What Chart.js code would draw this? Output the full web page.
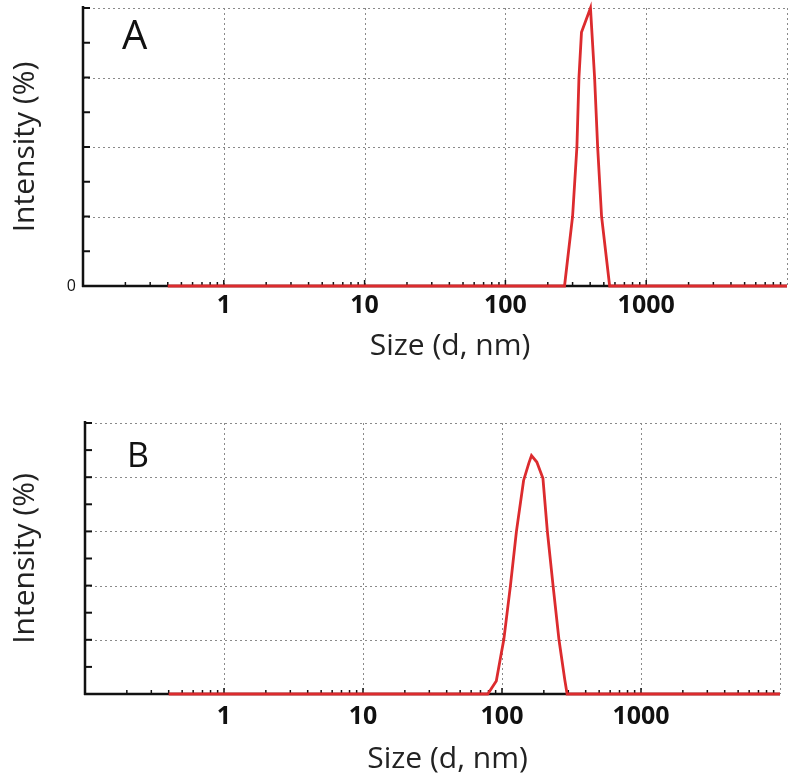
<!DOCTYPE html>
<html>
<head>
<meta charset="utf-8">
<script src="https://cdn.jsdelivr.net/npm/chart.js@4.4.1/dist/chart.umd.min.js"></script>
<style>
  body { margin: 0; background: #fff; width: 800px; height: 783px; position: relative; overflow: hidden; }
  .panel { position: absolute; left: 0; width: 800px; }
  #panelA { top: 0; height: 370px; }
  #panelB { top: 400px; height: 383px; }
</style>
</head>
<body>
<div class="panel" id="panelA"><canvas id="chartA"></canvas></div>
<div class="panel" id="panelB"><canvas id="chartB"></canvas></div>
<script>
// sample A: size (d, nm) vs intensity
const sizesA = [0.4, 263, 300, 322, 333, 347, 402, 430, 452, 482, 550, 10000];
const intensityA = [0, 0, 10, 20, 30, 36.5, 40, 30, 20, 10, 0, 0];

// sample B
const sizesB = [0.4, 79, 91, 99, 103, 115, 127, 143, 156, 163, 178, 197, 212, 233, 257, 283, 294, 10000];
const intensityB = [0, 0, 1.2, 3.8, 5, 10, 15, 19.7, 21.3, 22, 21.4, 19.9, 15, 10, 5, 1.3, 0, 0];

// x axis ticks (log)
const decadeTicks = [0.1, 1, 10, 100, 1000, 10000];
const labelledTicks = [1, 10, 100, 1000];

const FONT = "'Open Sans', 'DejaVu Sans', sans-serif";

function toPoints(xs, ys) {
  return xs.map((x, i) => ({ x: x, y: ys[i] }));
}

// dotted grid, black axes with inward ticks, panel letter, x title
const axisDeco = {
  id: "axisDeco",
  beforeDatasetsDraw(chart, args, o) {
    const { ctx, chartArea: a } = chart;
    const x = chart.scales.x, y = chart.scales.y;
    const line = (x1, y1, x2, y2) => {
      ctx.beginPath(); ctx.moveTo(x1, y1); ctx.lineTo(x2, y2); ctx.stroke();
    };
    ctx.save();
    ctx.strokeStyle = "#8a8a8a";
    ctx.lineWidth = 1;
    ctx.setLineDash([2, 3]);
    decadeTicks.forEach((v) => {
      const px = Math.round(x.getPixelForValue(v)) + 0.5;
      line(px, a.top, px, a.bottom);
    });
    for (let v = o.yStep; v <= o.yMax + 1e-9; v += o.yStep) {
      const py = Math.round(y.getPixelForValue(v)) + 0.5;
      line(a.left, py, a.right, py);
    }
    ctx.setLineDash([]);

    ctx.strokeStyle = "#111";
    ctx.lineWidth = 2;
    // y ticks, major and half steps
    for (let v = 0; v <= o.yMax + 1e-9; v += o.yStep / 2) {
      const py = y.getPixelForValue(v);
      line(a.left, py, a.left + 7, py);
    }
    // x minor ticks
    ctx.lineWidth = 1.5;
    for (let d = 0; d < decadeTicks.length - 1; d++) {
      for (let m = 1; m <= 9; m++) {
        const px = x.getPixelForValue(decadeTicks[d] * m);
        line(px, a.bottom, px, a.bottom - (m === 1 ? 6 : 4));
      }
    }
    ctx.lineWidth = 2.5;
    line(a.left, a.top - 2, a.left, a.bottom + 1);
    line(a.left - 1, a.bottom, a.right, a.bottom);
    ctx.restore();
  },
  afterDraw(chart, args, o) {
    const { ctx, chartArea: a } = chart;
    ctx.save();
    ctx.fillStyle = "#111";
    ctx.font = o.letterSize + "px " + FONT;
    ctx.textBaseline = "top";
    ctx.fillText(o.letter, a.left + o.letterDx, a.top + o.letterDy);
    // x title sits a bit right of the plot centre in the original
    ctx.fillStyle = "#222";
    ctx.font = "30px " + FONT;
    ctx.textAlign = "center";
    ctx.textBaseline = "middle";
    ctx.fillText("Size (d, nm)", (a.left + a.right) / 2 + 15, chart.height - o.titleOffset);
    ctx.restore();
  },
};

function makeChart(id, p) {
  return new Chart(document.getElementById(id), {
    type: "line",
    data: {
      datasets: [
        {
          data: toPoints(p.xs, p.ys),
          borderColor: "#dc2b2e",
          borderWidth: 2.8,
          pointRadius: 0,
          tension: 0,
          fill: false,
          clip: false,
        },
      ],
    },
    options: {
      responsive: true,
      maintainAspectRatio: false,
      animation: false,
      layout: { padding: p.padding },
      plugins: {
        legend: { display: false },
        tooltip: { enabled: false },
        axisDeco: {
          yMax: p.yMax, yStep: p.yStep,
          letter: p.letter, letterSize: p.letterSize,
          letterDx: p.letterDx, letterDy: p.letterDy,
          titleOffset: p.titleOffset,
        },
      },
      scales: {
        x: {
          type: "logarithmic",
          min: 0.1,
          max: 10000,
          afterFit: (s) => { s.height = p.xHeight; s.paddingLeft = 0; s.paddingRight = 0; },
          afterBuildTicks: (s) => { s.ticks = decadeTicks.map((v) => ({ value: v })); },
          grid: { display: false, drawTicks: false },
          border: { display: false },
          ticks: {
            autoSkip: false,
            maxRotation: 0,
            padding: p.xTickPad,
            color: "#111",
            font: { family: FONT, size: 25, weight: "bold" },
            callback: (v) => (labelledTicks.includes(v) ? String(v) : ""),
          },
          title: { display: false },
        },
        y: {
          min: 0,
          max: p.yMax,
          afterFit: (s) => { s.width = p.yWidth; s.paddingTop = 0; s.paddingBottom = 0; },
          afterBuildTicks: (s) => {
            const t = [];
            for (let v = 0; v <= p.yMax; v += p.yStep) t.push({ value: v });
            s.ticks = t;
          },
          grid: { display: false, drawTicks: false },
          border: { display: false },
          ticks: {
            padding: 7,
            color: "#111",
            font: { family: FONT, size: 16 },
            callback: (v) => (p.showZero && v === 0 ? "0" : ""),
          },
          title: {
            display: true,
            text: "Intensity (%)",
            color: "#222",
            font: { family: FONT, size: 30 },
            padding: { top: 7, bottom: 0 },
          },
        },
      },
    },
    plugins: [axisDeco],
  });
}

makeChart("chartA", {
  xs: sizesA, ys: intensityA, yMax: 40, yStep: 10, showZero: true,
  letter: "A", letterSize: 40, letterDx: 39, letterDy: 10,
  padding: { top: 8, right: 13, bottom: 0, left: 0 },
  yWidth: 83, xHeight: 84, xTickPad: 5, titleOffset: 24,
});

makeChart("chartB", {
  xs: sizesB, ys: intensityB, yMax: 25, yStep: 5, showZero: false,
  letter: "B", letterSize: 34, letterDx: 42, letterDy: 17,
  padding: { top: 23, right: 20, bottom: 0, left: 0 },
  yWidth: 85, xHeight: 89, xTickPad: 8, titleOffset: 24,
});
</script>
</body>
</html>
